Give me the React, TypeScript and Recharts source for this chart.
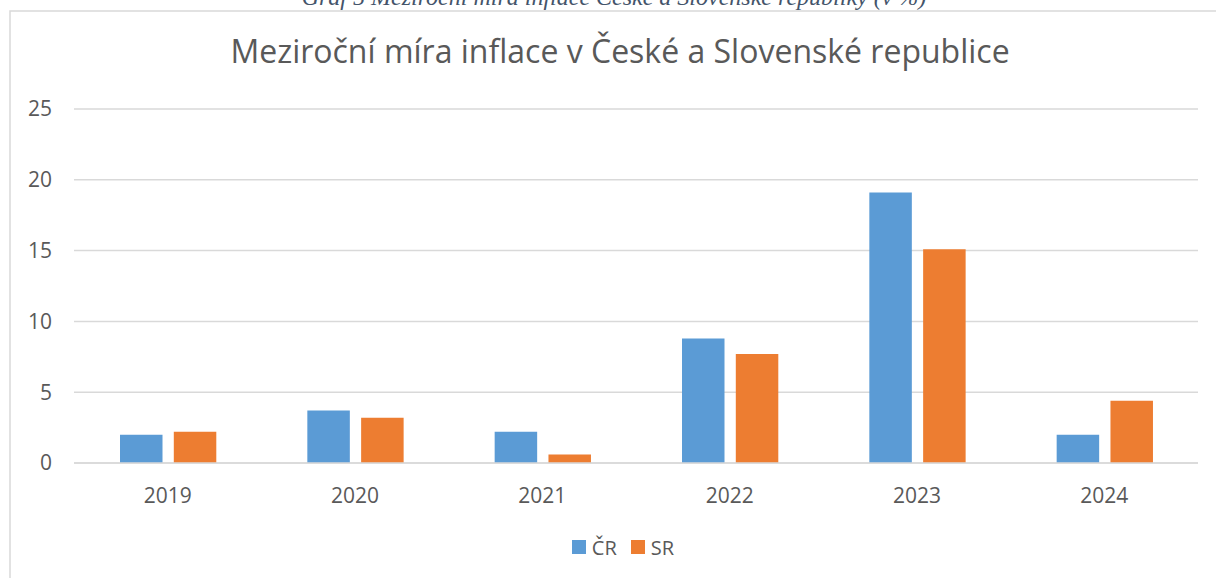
import React from "react";
import { BarChart, Bar, XAxis, YAxis, CartesianGrid, Legend } from "recharts";

const years = ["2019", "2020", "2021", "2022", "2023", "2024"];
const crValues = [2.0, 3.7, 2.2, 8.8, 19.1, 2.0];
const srValues = [2.2, 3.2, 0.6, 7.7, 15.1, 4.4];
const yTicks = [0, 5, 10, 15, 20, 25];
const seriesNames = ["ČR", "SR"];
const seriesColors = ["#5B9BD5", "#ED7D31"];

const data = years.map((y, i) => ({ year: y, cr: crValues[i], sr: srValues[i] }));

const FONT = "'Open Sans', sans-serif";
const TEXT = "#595959";

const LegendContent = () => (
  <div style={{ display: "flex", justifyContent: "center", alignItems: "center", height: 20, paddingLeft: 30, fontFamily: FONT, fontSize: 20, color: TEXT }}>
    {seriesNames.map((n, i) => (
      <div key={n} style={{ display: "flex", alignItems: "center", marginLeft: i ? 14 : 0 }}>
        <div style={{ width: 14, height: 14, background: seriesColors[i], marginRight: 6 }} />
        <span>{n}</span>
      </div>
    ))}
  </div>
);

export default function App() {
  return (
    <div style={{ position: "absolute", left: 0, top: 0, width: 1216, height: 578, overflow: "hidden", background: "#fff" }}>
      <svg width={1216} height={578} style={{ position: "absolute", left: 0, top: 0 }}>
        <text x={614} y={5} textAnchor="middle" fontFamily="'Liberation Serif', serif" fontStyle="italic" fontSize={24} fill="#44546A">
          Graf 5 Meziroční míra inflace České a Slovenské republiky (v %)
        </text>
        <rect x={10} y={11} width={1230} height={600} fill="none" stroke="#d9d9d9" strokeWidth={1.5} />
        <text x={620} y={63} textAnchor="middle" fontFamily={FONT} fontSize={32} fill={TEXT}>
          Meziroční míra inflace v České a Slovenské republice
        </text>
      </svg>
      <div style={{ position: "absolute", left: 0, top: 0 }}>
        <BarChart
          width={1216}
          height={578}
          data={data}
          margin={{ top: 109, right: 18, bottom: 55, left: 0 }}
          barCategoryGap={45.5}
          barGap={11.3}
        >
          <CartesianGrid vertical={false} stroke="#d9d9d9" strokeWidth={1.5} />
          <XAxis
            dataKey="year"
            height={40}
            tickSize={0}
            tickMargin={25}
            axisLine={{ stroke: "#d9d9d9", strokeWidth: 1.5 }}
            tick={{ fill: TEXT, fontFamily: FONT, fontSize: 21 }}
          />
          <YAxis
            width={74}
            domain={[0, 25]}
            ticks={yTicks}
            tickSize={0}
            tickMargin={22}
            axisLine={false}
            tick={{ fill: TEXT, fontFamily: FONT, fontSize: 21 }}
          />
          <Legend verticalAlign="bottom" height={20} content={<LegendContent />} wrapperStyle={{ top: 537, left: 0, width: 1216 }} />
          <Bar dataKey="cr" name={seriesNames[0]} fill={seriesColors[0]} barSize={42.5} isAnimationActive={false} />
          <Bar dataKey="sr" name={seriesNames[1]} fill={seriesColors[1]} barSize={42.5} isAnimationActive={false} />
        </BarChart>
      </div>
    </div>
  );
}
